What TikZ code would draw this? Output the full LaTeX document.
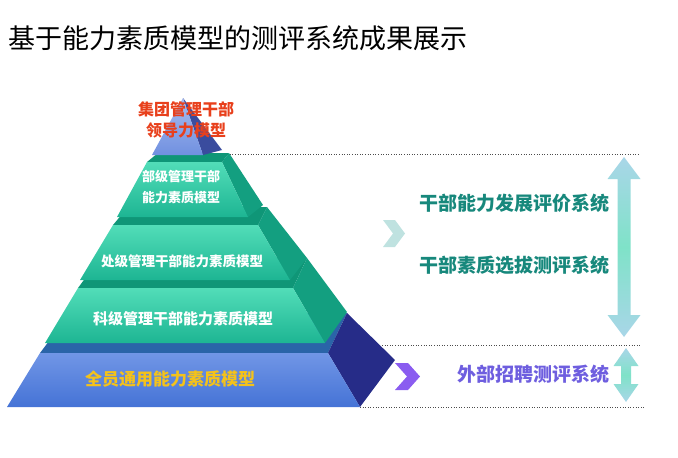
\documentclass[tikz,border=0pt]{standalone}
\usepackage{fontspec}
\setmainfont{Noto Sans CJK SC}
\usepackage{xcolor}
\usetikzlibrary{positioning}
\definecolor{tealtop}{HTML}{52DDB8}
\definecolor{tealbot}{HTML}{1DB593}
\definecolor{tealstrip}{HTML}{0F9677}
\definecolor{tealside}{HTML}{139F80}
\definecolor{bluetop}{HTML}{7196E6}
\definecolor{bluebot}{HTML}{4573D6}
\definecolor{bluestrip}{HTML}{2A64A8}
\definecolor{navyside}{HTML}{262C88}
\definecolor{tiptop}{HTML}{A7BDF0}
\definecolor{tipbot}{HTML}{7090E0}
\definecolor{tipside}{HTML}{3A4C9E}
\definecolor{leadred}{HTML}{E8401C}
\definecolor{basegold}{HTML}{F4C21A}
\definecolor{systeal}{HTML}{17887C}
\definecolor{syspurple}{HTML}{6E5EDF}
\definecolor{chevteal}{HTML}{BFE2E0}
\definecolor{chevpurple}{HTML}{8A5CF0}
\definecolor{arrblue}{HTML}{A9D6E8}
\definecolor{arrmint}{HTML}{7FE2C8}
\tikzset{
  % Faces of the stepped pyramid
  front/.style={top color=tealtop, bottom color=tealbot, draw=none},
  strip/.style={fill=tealstrip, draw=none},
  side/.style={fill=tealside, draw=none},
  % Labels inside the tiers
  tiertext/.style={text=white, font=\bfseries, align=center, inner sep=0pt},
  % Labels of the systems on the right
  systext/.style={font=\fontsize{19}{22}\selectfont\bfseries, inner sep=0pt, anchor=east},
  guide/.style={draw=black!70, dotted, line width=0.6pt},
  chevron/.style={draw=none},
  bigarrow/.style={top color=arrblue, bottom color=arrblue, middle color=arrmint, draw=none},
}

\begin{document}
\begin{tikzpicture}[x=1pt, y=-1pt]
  \useasboundingbox (0,0) rectangle (678,458);

  % --- Title -----------------------------------------------------------
  \node[anchor=west, inner sep=0pt, font=\fontsize{27}{30}\selectfont] (title) at (8,38)
       {基于能力素质模型的测评系统成果展示};

  % --- Guide lines -----------------------------------------------------
  \draw[guide] (222,154) coordinate (gA) -- (640,154) coordinate (gB);
  \draw[guide] (330,345) coordinate (gC) -- (640,345) coordinate (gD);
  \draw[guide] (360,407) coordinate (gE) -- (645,407) coordinate (gF);

  % --- Pyramid, from the base up ----------------------------------------
  % base tier
  \fill[fill=bluestrip] (70,313) -- (347,313) -- (328,353) -- (40,353) -- cycle;
  \fill[fill=navyside] (328,353) -- (347,313) -- (395,360) -- (360,407) -- cycle;
  \shade[top color=bluetop, bottom color=bluebot] (40,353) -- (328,353) -- (360,407) -- (7,407) -- cycle;
  % fourth tier
  \fill[strip] (100,258) -- (307,258) -- (293,288) -- (78,288) -- cycle;
  \fill[side] (293,288) -- (307,258) -- (347,312) -- (325,343) -- cycle;
  \shade[front] (78,288) -- (293,288) -- (325,343) -- (45,343) -- cycle;
  % third tier
  \fill[strip] (128,207) -- (267,207) -- (258,225) -- (113,225) -- cycle;
  \fill[side] (258,225) -- (267,207) -- (307,258) -- (290,280) -- cycle;
  \shade[front] (113,225) -- (258,225) -- (290,280) -- (80,280) -- cycle;
  % second tier
  \fill[strip] (158,153) -- (229,153) -- (222,162) -- (147,162) -- cycle;
  \fill[side] (222,162) -- (229,153) -- (263,205) -- (248,217) -- cycle;
  \shade[front] (147,162) -- (222,162) -- (248,217) -- (117,217) -- cycle;
  % tip
  \fill[fill=tipside] (183,98) -- (222,150) -- (203,155) -- cycle;
  \shade[top color=tiptop, bottom color=tipbot] (183,98) -- (203,155) -- (152,155) -- cycle;

  % --- Tier labels -----------------------------------------------------
  \node[tiertext, text=leadred, font=\fontsize{16}{21}\selectfont\bfseries] (lead) at (186,120)
       {集团管理干部\\领导力模型};
  \node[tiertext, font=\fontsize{13}{21}\selectfont\bfseries] (dept) at (181,187)
       {部级管理干部\\能力素质模型};
  \node[tiertext, font=\fontsize{13.5}{16}\selectfont\bfseries] (div) at (182,261)
       {处级管理干部能力素质模型};
  \node[tiertext, font=\fontsize{15}{18}\selectfont\bfseries] (sect) at (183,319)
       {科级管理干部能力素质模型};
  \node[tiertext, text=basegold, font=\fontsize{17}{20}\selectfont\bfseries] (staff) at (170,379)
       {全员通用能力素质模型};

  % --- Chevrons --------------------------------------------------------
  \fill[chevron, fill=chevteal] (383,220) -- (395,220) -- (405,233.5) -- (395,247)
        -- (383,247) -- (393,233.5) -- cycle;
  \fill[chevron, fill=chevpurple] (395,363) -- (408,363) -- (420,376.5) -- (408,390)
        -- (395,390) -- (407,376.5) -- cycle;

  % --- Systems ---------------------------------------------------------
  \node[systext, text=systeal] (devsys) at (610,203) {干部能力发展评价系统};
  \node[systext, text=systeal, below=43pt of devsys.south east, anchor=north east] (selsys)
       {干部素质选拔测评系统};
  \node[systext, text=syspurple] (recsys) at (610,374) {外部招聘测评系统};

  % --- Range arrows ----------------------------------------------------
  \shade[bigarrow] (624,157) -- (640.5,179) -- (630.5,179) -- (630.5,315) -- (640.5,315)
        -- (624,337) -- (607.5,315) -- (617.5,315) -- (617.5,179) -- (607.5,179) -- cycle;
  \shade[bigarrow] (626,348) -- (638.5,366) -- (631,366) -- (631,384) -- (638.5,384)
        -- (626,402) -- (613.5,384) -- (621,384) -- (621,366) -- (613.5,366) -- cycle;

\end{tikzpicture}
\end{document}
